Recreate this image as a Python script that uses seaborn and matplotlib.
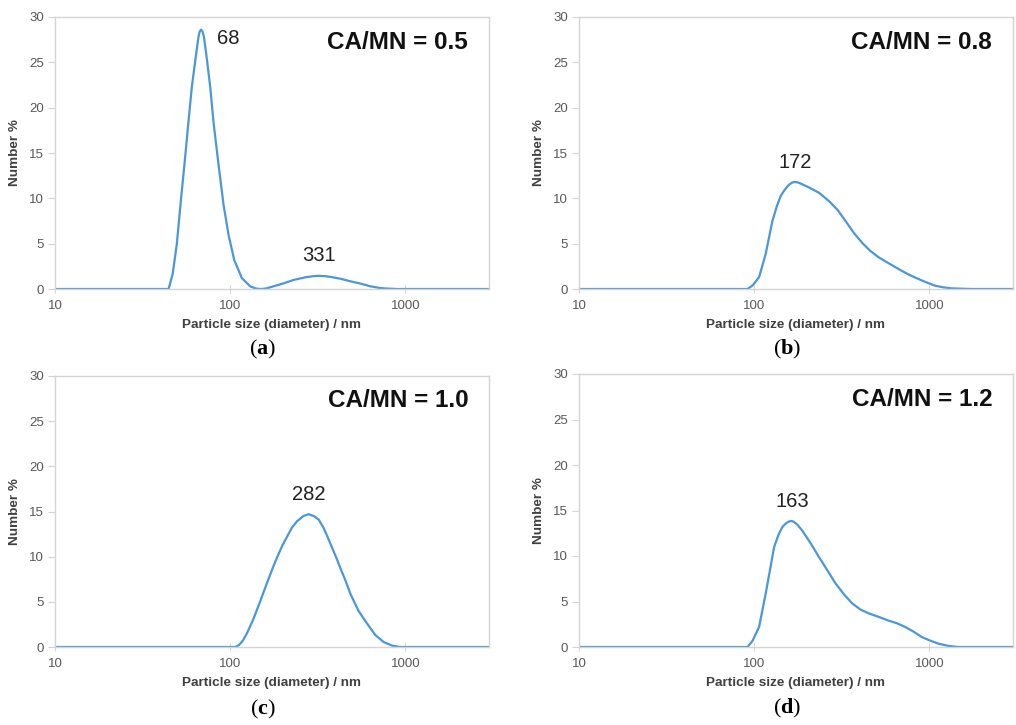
import numpy as np
import pandas as pd
import matplotlib
matplotlib.use("Agg")
import matplotlib.pyplot as plt
import seaborn as sns

# ---------------- data ----------------
size_a = [10, 20, 30, 40, 44.5, 47.0, 49.6, 52.2, 55.1, 58.0, 60.4, 64.0, 65.9, 67.0, 68.2, 69.5, 70.8,
          72.9, 76.9, 80.4, 85.8, 91.6, 97.8, 105.4, 116.6, 130, 140, 150, 160, 177, 200, 230, 270, 300,
          320, 345, 370, 425, 485, 553, 630, 720, 800, 895, 1000, 2000, 3000]
num_a = [0, 0, 0, 0, 0, 1.7, 5.0, 9.6, 14.2, 18.8, 22.3, 26.0, 27.8, 28.4, 28.6, 28.4, 27.8,
         26.0, 22.3, 18.3, 13.7, 9.3, 6.0, 3.2, 1.2, 0.3, 0.05, 0.0, 0.05, 0.3, 0.6, 1.0, 1.3, 1.42,
         1.45, 1.42, 1.35, 1.14, 0.85, 0.6, 0.3, 0.1, 0.04, 0.0, 0, 0, 0]

size_b = [10, 50, 85, 91.6, 98, 106.6, 116.4, 127, 135, 142, 150, 158, 165, 171, 178, 188, 205.5, 235, 267,
          300, 332, 370, 413, 460, 513, 590, 667, 760, 867, 970, 1077, 1200, 1340, 1740, 3000]
num_b = [0, 0, 0, 0, 0.4, 1.3, 3.9, 7.5, 9.2, 10.3, 11.0, 11.5, 11.75, 11.8, 11.75, 11.55, 11.2, 10.6, 9.7,
         8.7, 7.5, 6.2, 5.1, 4.2, 3.5, 2.8, 2.2, 1.6, 1.1, 0.7, 0.37, 0.18, 0.07, 0, 0]

size_c = [10, 50, 100, 107, 112, 118, 124.5, 135, 148, 158, 169, 177, 185, 198, 211, 225, 240, 262, 280, 300,
          320, 341, 365, 385, 407, 430, 454, 485, 540, 604, 675, 752, 840, 936, 1100, 3000]
num_c = [0, 0, 0, 0, 0.2, 0.7, 1.5, 3.0, 5.0, 6.5, 8.0, 9.0, 9.9, 11.2, 12.2, 13.2, 13.9, 14.5, 14.7, 14.5,
         14.1, 13.2, 11.9, 10.8, 9.7, 8.5, 7.4, 5.9, 4.0, 2.6, 1.3, 0.55, 0.15, 0.0, 0, 0]

size_d = [10, 50, 85, 91.6, 98, 106.6, 116.4, 130, 138, 145, 152, 158, 164, 170, 177, 188, 210, 234, 262,
          291, 325, 362, 405, 450, 515, 585, 655, 728, 810, 904, 1010, 1125, 1280, 1462, 3000]
num_d = [0, 0, 0, 0, 0.7, 2.2, 5.9, 11.0, 12.4, 13.2, 13.6, 13.8, 13.85, 13.7, 13.4, 12.8, 11.4, 9.9, 8.4,
         7.0, 5.8, 4.8, 4.1, 3.7, 3.3, 2.9, 2.6, 2.2, 1.7, 1.1, 0.7, 0.37, 0.12, 0.0, 0]

ratios = ["CA/MN = 0.5", "CA/MN = 0.8", "CA/MN = 1.0", "CA/MN = 1.2"]
panel_tags = ["a", "b", "c", "d"]
peak_labels = [["68", "331"], ["172"], ["282"], ["163"]]
peak_pos = [[(68.2, 28.6), (320, 1.45)], [(171, 11.8)], [(280, 14.7)], [(164, 13.8)]]

# ---------------- style ----------------
sns.set_style("white")
plt.rcParams["font.family"] = ["Liberation Sans", "DejaVu Sans"]
plt.rcParams["mathtext.fontset"] = "custom"
plt.rcParams["mathtext.rm"] = "Liberation Serif"
plt.rcParams["mathtext.bf"] = "Liberation Serif:bold"

LINE = "#4A97D9"
SPINE = "#D4D4D4"
TICKC = "#595959"

fig = plt.figure(figsize=(10.16, 7.25), dpi=100)
W, H = 1016, 725
boxes = [(55, 17, 489, 289), (579, 17, 1013, 289), (55, 376, 489, 647), (579, 374, 1013, 647)]
label_centers = [(263, 349), (787, 349), (263, 709), (787, 708)]

series = [(size_a, num_a), (size_b, num_b), (size_c, num_c), (size_d, num_d)]

for i, ((xs, ys), (l, t, r, b)) in enumerate(zip(series, boxes)):
    ax = fig.add_axes([l / W, (H - b) / H, (r - l) / W, (b - t) / H])
    df = pd.DataFrame({"size": xs, "num": ys})
    sns.lineplot(data=df, x="size", y="num", ax=ax, color=LINE, linewidth=1.6, sort=False)
    ax.set_xscale("log")
    ax.set_xlim(10, 3000)
    ax.set_ylim(0, 30)
    ax.set_yticks([0, 5, 10, 15, 20, 25, 30])
    ax.set_xticks([10, 100, 1000])
    ax.set_xticklabels(["10", "100", "1000"])
    ax.xaxis.set_minor_locator(matplotlib.ticker.NullLocator())
    for s in ax.spines.values():
        s.set_color(SPINE)
        s.set_linewidth(1.0)
    ax.tick_params(axis="y", which="major", direction="out", length=5, width=0.8,
                   color=SPINE, labelcolor=TICKC, labelsize=9.5, pad=3, left=True)
    ax.tick_params(axis="x", which="major", direction="inout", length=6, width=0.8,
                   color=SPINE, labelcolor=TICKC, labelsize=9.5, pad=5, bottom=True)
    ax.set_xlabel("Particle size (diameter) / nm", fontsize=9.7, fontweight="bold",
                  color="#404040", labelpad=5)
    ax.set_ylabel("Number %", fontsize=9.7, fontweight="bold", color="#404040", labelpad=6)
    ax.text(0.952, 0.908, ratios[i], transform=ax.transAxes, ha="right", va="center",
            fontsize=17.5, fontweight="bold", color="#111111")
    for j, (lab, (px, py)) in enumerate(zip(peak_labels[i], peak_pos[i])):
        if i == 0 and j == 0:
            ax.annotate(lab, xy=(px, py), xytext=(16, -9), textcoords="offset pixels",
                        ha="left", va="center", fontsize=14.5, color="#222222")
        else:
            ax.annotate(lab, xy=(px, py), xytext=(0, 20), textcoords="offset pixels",
                        ha="center", va="center", fontsize=14.5, color="#222222")

for i, (cx, cy) in enumerate(label_centers):
    fig.text(cx / W, 1 - cy / H, r"($\mathbf{" + panel_tags[i] + r"}$)", ha="center", va="center",
             fontsize=16, family="Liberation Serif", color="black")

fig.savefig("out.png", dpi=100, facecolor="white")
